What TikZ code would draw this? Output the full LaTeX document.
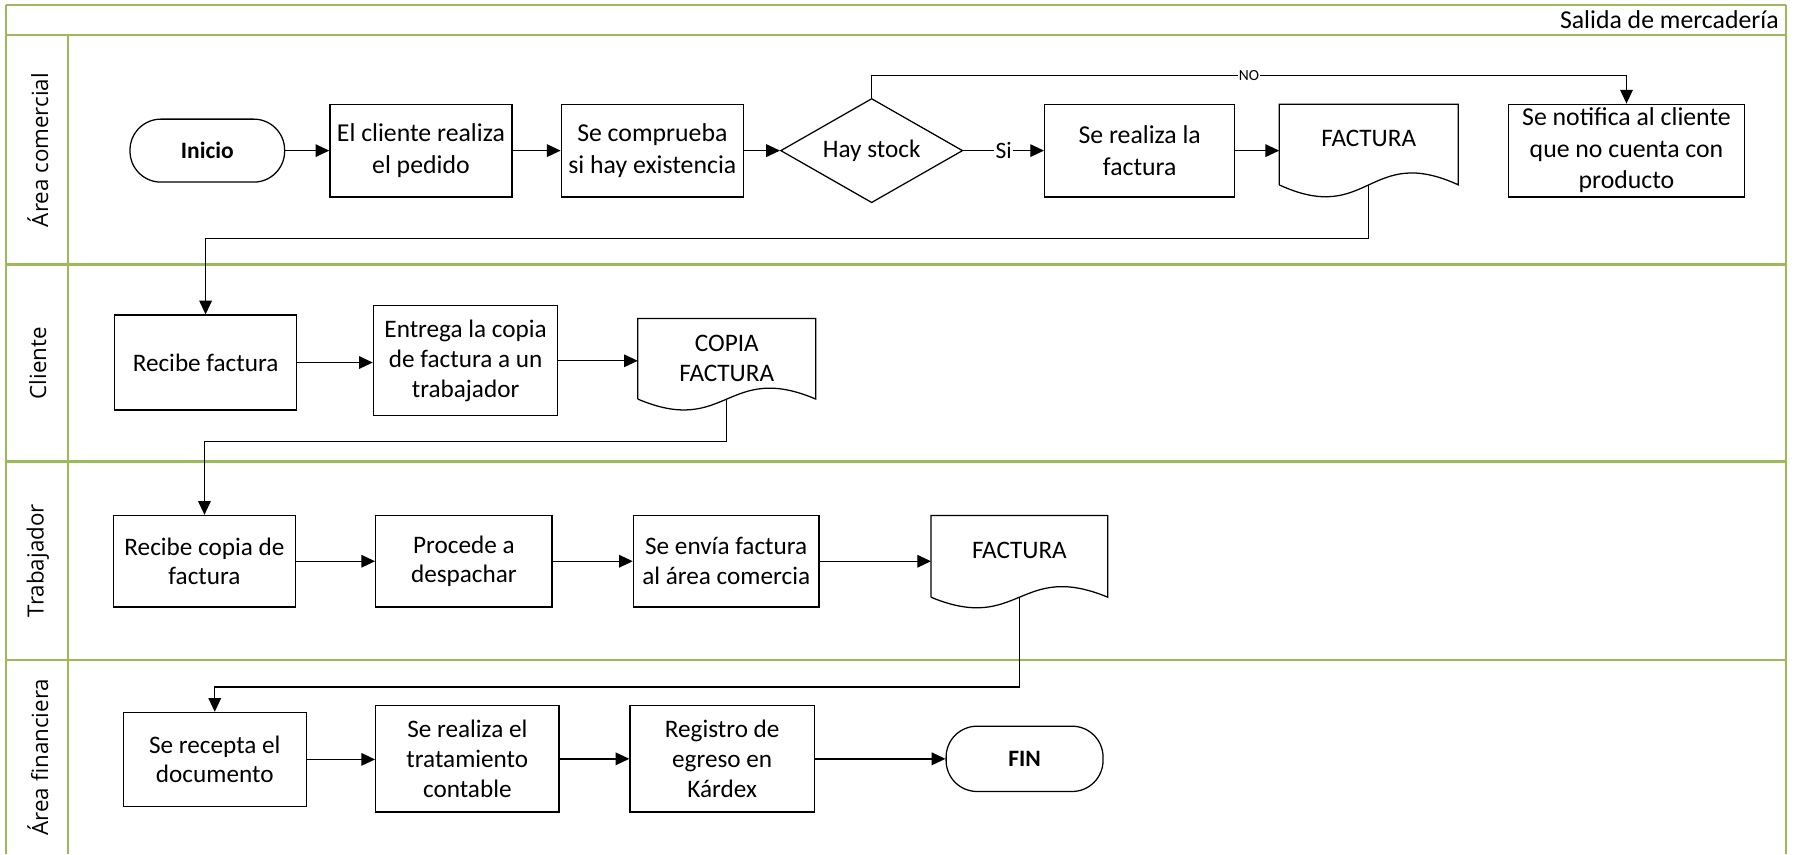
\documentclass[tikz,border=0pt]{standalone}
\usepackage{fontspec}
\setmainfont{Carlito}
\newfontfamily\lanefont{Open Sans}
\usetikzlibrary{shapes.geometric,arrows.meta,calc}
\definecolor{lanegreen}{RGB}{155,187,89}

% outline of a flowchart "document" symbol around a (borderless) node
\newcommand\docoutline[2]{%
  \draw[line width=1.1pt] (#1.south west) -- (#1.north west) -- (#1.north east) -- (#1.south east)
    .. controls ($(#1.south)+(0,-#2)$) and ($(#1.south)+(0,#2)$) .. (#1.south west);}

\tikzset{
  lane/.style={draw=lanegreen, line width=2pt},
  lanelabel/.style={rotate=90, font=\lanefont\fontsize{19.5}{23}\selectfont},
  box/.style={draw, line width=1.1pt, align=center, inner sep=1pt,
    font=\fontsize{22}{26}\selectfont},
  bigbox/.style={box, font=\fontsize{22.5}{27.5}\selectfont},
  term/.style={draw, line width=1.1pt, rounded corners=27pt, inner sep=1pt,
    font=\bfseries\fontsize{20.5}{24}\selectfont},
  decision/.style={diamond, aspect=1.75, draw, line width=1.1pt, inner sep=0pt,
    font=\fontsize{22}{26}\selectfont},
  docshape/.style={draw=none, align=center, inner sep=0pt, anchor=north,
    minimum height=70pt, font=\fontsize{22}{26}\selectfont},
  onedoc/.style={docshape, text height=14pt, text depth=10pt},
  flow/.style={line width=1.2pt, -{Triangle[length=12pt,width=11pt]}},
  lbl/.style={fill=white, inner sep=1pt, font=\fontsize{20.5}{24}\selectfont},
  smalllbl/.style={fill=white, inner sep=1pt, font=\fontsize{13.5}{16}\selectfont},
}

\begin{document}
\begin{tikzpicture}[x=1pt, y=-1pt]
\useasboundingbox (0,0) rectangle (1568,746);

% ---- swimlane frame ----
\draw[lane] (5.5,4.5) -- (1559.5,4.5);
\draw[lane] (5.5,4.5) -- (5.5,746);
\draw[lane] (1559.5,4.5) -- (1559.5,746);
\draw[lane] (5.5,30.5) -- (1559.5,30.5);
\draw[lane] (59.5,30.5) -- (59.5,746);
\draw[lane] (5.5,231) -- (1559.5,231);
\draw[lane] (5.5,403) -- (1559.5,403);
\draw[lane] (5.5,576) -- (1559.5,576);

\node[anchor=base east, inner sep=0pt, font=\fontsize{22.5}{26}\selectfont] (title) at (1553,24.7) {Salida de mercadería};

\node[lanelabel] (l1) at (33,131) {Área comercial};
\node[lanelabel] (l2) at (33,317) {Cliente};
\node[lanelabel] (l3) at (33,489.5) {Trabajador};
\node[lanelabel] (l4) at (33,661) {Área financiera};

% ---- Área comercial ----
\node[term, minimum width=135pt, minimum height=55pt] (inicio) at (181,131.5) {Inicio};
\node[bigbox, minimum width=159pt, minimum height=81pt] (pedido) at (367.5,131.5) {El cliente realiza\\el pedido};
\node[bigbox, minimum width=159pt, minimum height=81pt] (comprueba) at (569.5,131.5) {Se comprueba\\si hay existencia};
\node[decision, minimum width=159pt, minimum height=91pt] (stock) at (761,131.5) {Hay stock};
\node[bigbox, minimum width=166pt, minimum height=81pt] (factura) at (995,131.5) {Se realiza la\\factura};
\node[onedoc, minimum width=156pt] (doca) at (1195,91) {FACTURA};
\docoutline{doca}{36}
\node[bigbox, minimum width=206pt, minimum height=81pt] (notifica) at (1420,131.5) {Se notifica al cliente\\que no cuenta con\\producto};

% ---- Cliente ----
\node[box, minimum width=159pt, minimum height=83pt] (recibe) at (179.5,316.5) {Recibe factura};
\node[box, minimum width=161pt, minimum height=96pt] (entrega) at (406.5,315) {Entrega la copia\\de factura a un\\trabajador};
\node[docshape, minimum width=155pt] (docb) at (634.5,278) {COPIA\\FACTURA};
\docoutline{docb}{33}

% ---- Trabajador ----
\node[box, minimum width=159pt, minimum height=80pt] (rcopia) at (178.5,490) {Recibe copia de\\factura};
\node[box, minimum width=154pt, minimum height=80pt] (procede) at (405,490) {Procede a\\despachar};
\node[box, minimum width=162pt, minimum height=80pt] (envia) at (634,490) {Se envía factura\\al área comercia};
\node[onedoc, minimum width=154pt, minimum height=71pt] (docc) at (890,450) {FACTURA};
\docoutline{docc}{32}

% ---- Área financiera ----
\node[box, minimum width=160pt, minimum height=82pt] (recepta) at (187.5,663) {Se recepta el\\documento};
\node[box, minimum width=160pt, minimum height=93pt] (contable) at (408,662.5) {Se realiza el\\tratamiento\\contable};
\node[box, minimum width=161pt, minimum height=93pt] (kardex) at (630.5,662.5) {Registro de\\egreso en\\Kárdex};
\node[term, minimum width=137pt, minimum height=57pt] (fin) at (894.5,662.5) {FIN};

% ---- connectors ----
\draw[flow] (inicio) -- (pedido);
\draw[flow] (pedido) -- (comprueba);
\draw[flow] (comprueba) -- (stock);
\draw[flow] (stock.east) -- node[lbl] {Si} (factura.west);
\draw[flow] (factura.east) -- (factura.east -| doca.west);
\draw[flow] (stock.north) -- ++(0,-19.5) -| node[pos=0.25, smalllbl] {NO} (notifica.north);
\draw[flow] (doca.south) -- ++(0,47) -| (recibe.north);

\draw[flow] (recibe.east) -- (recibe.east -| entrega.west);
\draw[flow] (entrega.east) -- (entrega.east -| docb.west);
\draw[flow] (docb.south) -- ++(0,37) -| (rcopia.north);

\draw[flow] (rcopia) -- (procede);
\draw[flow] (procede) -- (envia);
\draw[flow] (envia.east) -- (envia.east -| docc.west);
\draw[flow] (docc.south) -- ++(0,78.5) -| (recepta.north);

\draw[flow] (recepta.east) -- (recepta.east -| contable.west);
\draw[flow] (contable.east) -- (contable.east -| kardex.west);
\draw[flow] (kardex.east) -- (kardex.east -| fin.west);
\end{tikzpicture}
\end{document}
